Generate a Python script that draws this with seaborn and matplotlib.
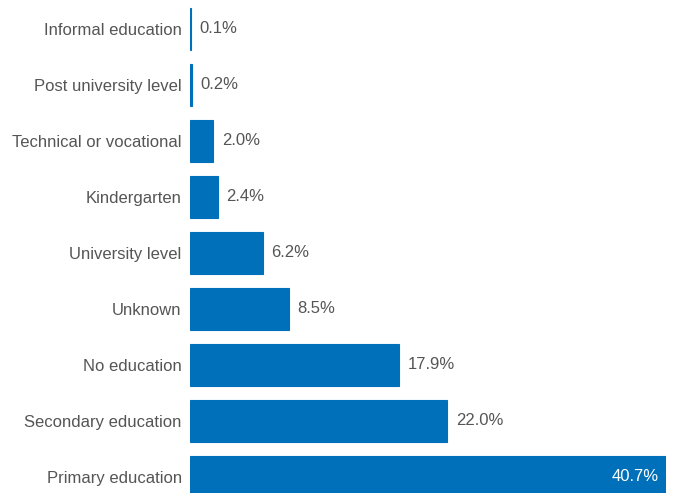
import matplotlib
matplotlib.use('Agg')
import matplotlib.pyplot as plt
import seaborn as sns
import pandas as pd

# Data
categories = ['Informal education', 'Post university level', 'Technical or vocational',
              'Kindergarten', 'University level', 'Unknown', 'No education',
              'Secondary education', 'Primary education']
shares = [0.1, 0.2, 2.0, 2.4, 6.2, 8.5, 17.9, 22.0, 40.7]

BAR_COLOR = '#0070ba'
TEXT_COLOR = '#555555'

sns.set_style('white')
plt.rcParams['font.family'] = ['Liberation Sans', 'DejaVu Sans']

df = pd.DataFrame({'category': categories, 'share': shares})

fig = plt.figure(figsize=(6.73, 4.93), dpi=100)
ax = fig.add_axes([190 / 673, 0, 476 / 673, 1])

sns.barplot(data=df, x='share', y='category', orient='h', color=BAR_COLOR,
            saturation=1, width=0.76, edgecolor=BAR_COLOR, linewidth=0.8, ax=ax)

ax.set_xlim(0, 40.7)
ax.set_ylim(8 + 16 / 56, -29 / 56)
ax.set_xlabel('')
ax.set_ylabel('')
ax.set_xticks([])
ax.tick_params(axis='y', length=0, pad=6, labelsize=12, labelcolor=TEXT_COLOR)
for s in ax.spines.values():
    s.set_visible(False)

vmax = max(shares)
for i, v in enumerate(shares):
    label = f'{v:.1f}%'
    if v > 0.8 * vmax:
        # big bar: label sits inside, right-aligned
        ax.annotate(label, (v, i), xytext=(-5.5, 0), textcoords='offset points',
                    ha='right', va='center', color='white', fontsize=12)
    else:
        ax.annotate(label, (v, i), xytext=(6, 0), textcoords='offset points',
                    ha='left', va='center', color=TEXT_COLOR, fontsize=12)

plt.savefig('out.png', dpi=100)
plt.close()
